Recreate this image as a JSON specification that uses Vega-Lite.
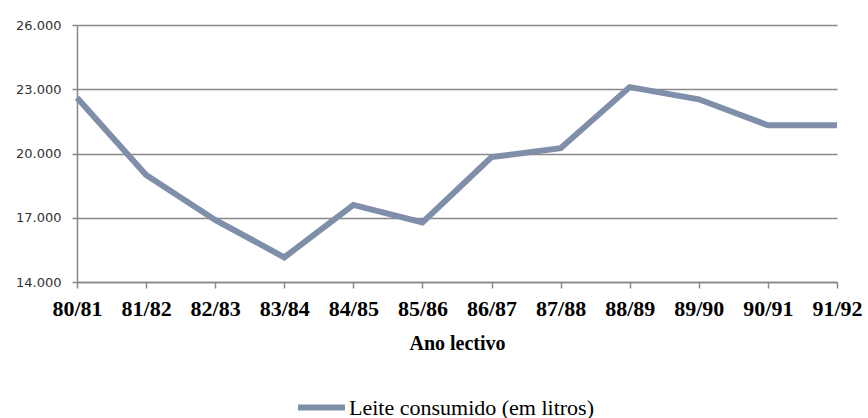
{
  "$schema": "https://vega.github.io/schema/vega-lite/v6.json",
  "autosize": "none",
  "width": 760,
  "height": 257,
  "padding": {"left": 77, "top": 25, "right": 31, "bottom": 136},
  "background": "white",
  "data": {
    "values": [
      {"ano": "80/81", "leite": 22600, "serie": "Leite consumido (em litros)"},
      {"ano": "81/82", "leite": 19000, "serie": "Leite consumido (em litros)"},
      {"ano": "82/83", "leite": 16900, "serie": "Leite consumido (em litros)"},
      {"ano": "83/84", "leite": 15150, "serie": "Leite consumido (em litros)"},
      {"ano": "84/85", "leite": 17600, "serie": "Leite consumido (em litros)"},
      {"ano": "85/86", "leite": 16780, "serie": "Leite consumido (em litros)"},
      {"ano": "86/87", "leite": 19830, "serie": "Leite consumido (em litros)"},
      {"ano": "87/88", "leite": 20250, "serie": "Leite consumido (em litros)"},
      {"ano": "88/89", "leite": 23100, "serie": "Leite consumido (em litros)"},
      {"ano": "89/90", "leite": 22530, "serie": "Leite consumido (em litros)"},
      {"ano": "90/91", "leite": 21320, "serie": "Leite consumido (em litros)"},
      {"ano": "91/92", "leite": 21320, "serie": "Leite consumido (em litros)"}
    ]
  },
  "mark": {"type": "line", "strokeWidth": 6, "strokeJoin": "miter", "strokeCap": "butt"},
  "encoding": {
    "x": {
      "field": "ano",
      "type": "ordinal",
      "scale": {"type": "point", "padding": 0},
      "axis": {
        "title": "Ano lectivo",
        "labelAngle": 0,
        "labelFont": "Liberation Serif",
        "labelFontWeight": "bold",
        "labelFontSize": 22,
        "labelColor": "#000000",
        "labelPadding": 10,
        "labelOverlap": false,
        "tickSize": 6,
        "tickColor": "#888888",
        "tickWidth": 1.5,
        "domainColor": "#888888",
        "domainWidth": 1.5,
        "grid": false,
        "titleFont": "Liberation Serif",
        "titleFontWeight": "bold",
        "titleFontSize": 20,
        "titleColor": "#000000",
        "titlePadding": 14
      }
    },
    "y": {
      "field": "leite",
      "type": "quantitative",
      "scale": {"domain": [14000, 26000], "nice": false, "zero": false},
      "axis": {
        "title": null,
        "values": [14000, 17000, 20000, 23000, 26000],
        "labelExpr": "replace(format(datum.value, ',d'), ',', '.')",
        "labelFont": "DejaVu Sans",
        "labelFontSize": 13,
        "labelColor": "#333333",
        "labelPadding": 11,
        "tickSize": 5,
        "tickColor": "#888888",
        "tickWidth": 1.5,
        "domainColor": "#888888",
        "domainWidth": 1.5,
        "grid": true,
        "gridColor": "#888888",
        "gridWidth": 1.5
      }
    },
    "color": {
      "field": "serie",
      "type": "nominal",
      "scale": {"range": ["#7F8FA9"]},
      "legend": {
        "title": null,
        "orient": "none",
        "legendX": 218,
        "legendY": 356,
        "padding": 0,
        "symbolType": "stroke",
        "symbolSize": 2200,
        "symbolStrokeWidth": 6,
        "labelFont": "Liberation Serif",
        "labelFontSize": 22,
        "labelLimit": 400,
        "labelColor": "#000000",
        "labelOffset": 1
      }
    }
  },
  "config": {"view": {"stroke": null}}
}
